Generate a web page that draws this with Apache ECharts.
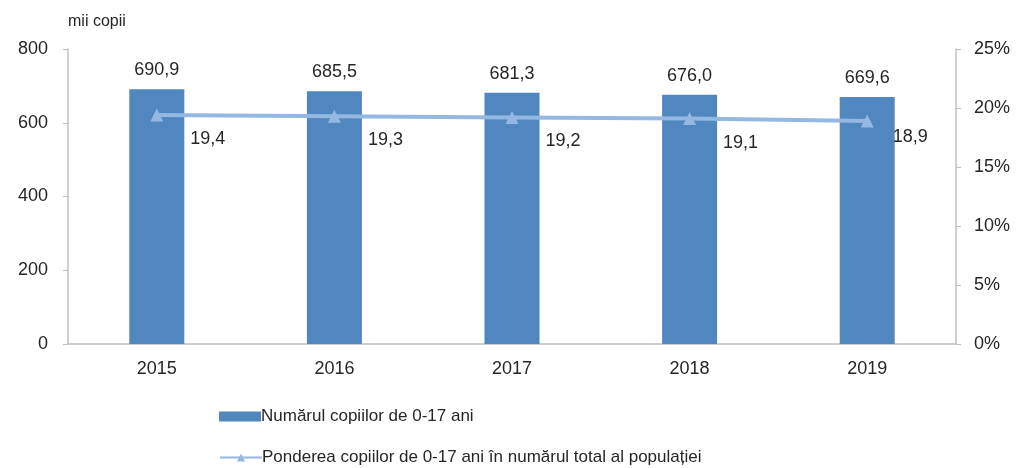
<!DOCTYPE html>
<html><head><meta charset="utf-8">
<script src="https://cdn.jsdelivr.net/npm/echarts@6/dist/echarts.min.js"></script>
<style>html,body{margin:0;padding:0;background:#fff}#c{width:1018px;height:468px}</style>
</head><body><div id="c"></div>
<script>
const categories = ['2015','2016','2017','2018','2019'];
const childrenCount = [690.9, 685.5, 681.3, 676.0, 669.6];
const childrenShare = [19.4, 19.3, 19.2, 19.1, 18.9];
const leftTicks = [0, 200, 400, 600, 800];
const rightTicks = [0, 5, 10, 15, 20, 25];
const seriesNames = ['Numărul copiilor de 0-17 ani', 'Ponderea copiilor de 0-17 ani în numărul total al populației'];
const leftAxisName = 'mii copii';

const fmt = v => v.toFixed(1).replace('.', ',');
const font = 'Liberation Sans, Arial, sans-serif';
const txt = '#262626';
const chart = echarts.init(document.getElementById('c'));
const shareData = childrenShare.map((v, i) => i === childrenShare.length - 1
  ? { value: v, label: { offset: [14, 16] } } : v);
const legendBase = {
  orient: 'vertical', left: 214,
  itemWidth: 42, itemHeight: 10,
  textStyle: { fontSize: 17, color: txt, fontFamily: font, padding: [0,0,0,-5] }
};
chart.setOption({
  animation: false,
  textStyle: { fontFamily: font },
  grid: { left: 68, right: 62, top: 49, bottom: 124 },
  legend: [
    Object.assign({}, legendBase, { top: 403, data: [{ name: seriesNames[0], icon: 'rect' }] }),
    Object.assign({}, legendBase, { top: 444, data: [{ name: seriesNames[1] }] })
  ],
  xAxis: {
    type: 'category', data: categories,
    axisLine: { lineStyle: { color: '#bfbfbf', width: 1.5 } },
    axisTick: { show: false },
    axisLabel: { fontSize: 18, color: txt, margin: 16, fontFamily: font }
  },
  yAxis: [
    {
      type: 'value', min: leftTicks[0], max: leftTicks[leftTicks.length-1], interval: 200,
      name: leftAxisName, nameGap: 19, nameLocation: 'end',
      nameTextStyle: { fontSize: 16, color: txt, align: 'left', padding: [0,0,0,0], fontFamily: font },
      axisLine: { show: true, lineStyle: { color: '#bfbfbf', width: 1.5 } },
      axisTick: { show: true, length: 5, lineStyle: { color: '#bfbfbf' } },
      axisLabel: { fontSize: 18, color: txt, margin: 20, fontFamily: font },
      splitLine: { show: false }
    },
    {
      type: 'value', min: rightTicks[0], max: rightTicks[rightTicks.length-1], interval: 5,
      position: 'right',
      axisLine: { show: true, lineStyle: { color: '#bfbfbf', width: 1.5 } },
      axisTick: { show: true, length: 5, lineStyle: { color: '#bfbfbf' } },
      axisLabel: { fontSize: 18, color: txt, margin: 18, formatter: v => v + '%', fontFamily: font },
      splitLine: { show: false }
    }
  ],
  series: [
    {
      name: seriesNames[0], type: 'bar', yAxisIndex: 0, data: childrenCount,
      barWidth: 55,
      itemStyle: { color: '#4f87be' },
      label: { show: true, position: 'top', distance: 10, fontSize: 18, color: txt,
               fontFamily: font, formatter: p => fmt(p.value) }
    },
    {
      name: seriesNames[1], type: 'line', yAxisIndex: 1, data: shareData,
      symbol: 'triangle', symbolSize: 13,
      lineStyle: { color: '#95b8e2', width: 4 },
      itemStyle: { color: '#95b8e2' },
      label: { show: true, position: 'right', offset: [22, 24], fontSize: 18, color: txt,
               fontFamily: font, formatter: p => fmt(p.value) }
    }
  ]
});
</script></body></html>
